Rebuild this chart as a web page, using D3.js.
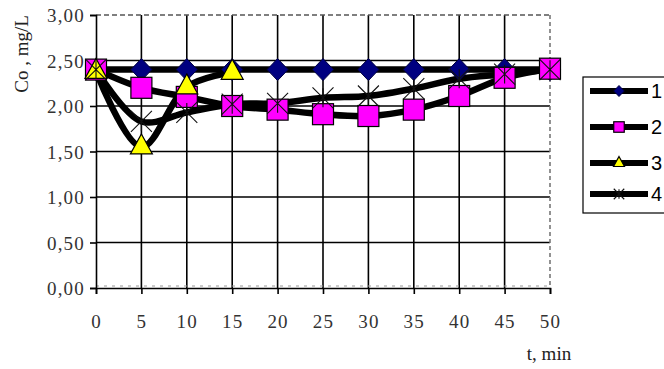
<!DOCTYPE html>
<html>
<head>
<meta charset="utf-8">
<script src="https://cdn.jsdelivr.net/npm/d3@7"></script>
<style>
  html, body { margin: 0; padding: 0; background: #fff; }
  svg { display: block; }
</style>
</head>
<body>
<svg id="chart" width="664" height="369"></svg>
<script>
// Time points (min)
const times = [0, 5, 10, 15, 20, 25, 30, 35, 40, 45, 50];
// Co concentration, mg/L, per series
const series1 = [2.40, 2.40, 2.40, 2.40, 2.40, 2.40, 2.40, 2.40, 2.40, 2.40, 2.40];
const series2 = [2.40, 2.20, 2.10, 2.00, 1.96, 1.91, 1.89, 1.96, 2.11, 2.31, 2.41];
const series3 = [2.38, 1.55, 2.21, 2.37];
const series4 = [2.40, 1.83, 1.93, 2.02, 2.03, 2.09, 2.11, 2.19, 2.30, 2.35, 2.40];
const seriesNames = ["1", "2", "3", "4"];
const yTicks = [0, 0.5, 1, 1.5, 2, 2.5, 3];
const xTicks = [0, 5, 10, 15, 20, 25, 30, 35, 40, 45, 50];

const svg = d3.select("#chart");
const plot = { left: 96, right: 550, top: 15, bottom: 288 };

const x = d3.scaleLinear().domain([0, 50]).range([plot.left, plot.right]);
const y = d3.scaleLinear().domain([0, 3]).range([plot.bottom, plot.top]);
const fmt = v => d3.format(".2f")(v).replace(".", ",");

// Grid
const grid = svg.append("g");
grid.selectAll("line.v").data(xTicks.filter(d => d > 0 && d < 50)).join("line")
  .attr("x1", d => x(d)).attr("x2", d => x(d))
  .attr("y1", plot.top).attr("y2", plot.bottom)
  .attr("stroke", "#000").attr("stroke-width", 1.6);
grid.selectAll("line.h").data(yTicks.filter(d => d > 0 && d < 3)).join("line")
  .attr("x1", plot.left).attr("x2", plot.right)
  .attr("y1", d => y(d)).attr("y2", d => y(d))
  .attr("stroke", "#000").attr("stroke-width", 1.6);

// Plot frame: dashed top and right edges
grid.append("line").attr("x1", plot.left).attr("x2", plot.right)
  .attr("y1", plot.top).attr("y2", plot.top)
  .attr("stroke", "#555").attr("stroke-width", 1.6).attr("stroke-dasharray", "5,3");
grid.append("line").attr("x1", plot.right).attr("x2", plot.right)
  .attr("y1", plot.top).attr("y2", plot.bottom)
  .attr("stroke", "#777").attr("stroke-width", 1.6).attr("stroke-dasharray", "4,3");
grid.append("line").attr("x1", plot.left).attr("x2", plot.right)
  .attr("y1", plot.bottom - 2).attr("y2", plot.bottom - 2)
  .attr("stroke", "#999").attr("stroke-width", 1.2).attr("stroke-dasharray", "3,5");

// Axes
const axisFont = "'Liberation Serif', 'Times New Roman', serif";
const yAxis = svg.append("g").attr("transform", `translate(${plot.left},0)`)
  .call(d3.axisLeft(y).tickValues(yTicks).tickFormat(fmt).tickSize(6).tickPadding(5));
const xAxis = svg.append("g").attr("transform", `translate(0,${plot.bottom})`)
  .call(d3.axisBottom(x).tickValues(xTicks).tickFormat(d3.format("d")).tickSize(6).tickPadding(21));
[yAxis, xAxis].forEach(a => {
  a.select(".domain").attr("stroke", "#000").attr("stroke-width", 1.6);
  a.selectAll(".tick line").attr("stroke", "#000").attr("stroke-width", 1.6);
  a.selectAll(".tick text").attr("font-family", axisFont).attr("font-size", 19)
    .attr("letter-spacing", 1.2).attr("fill", "#333");
});
yAxis.selectAll(".tick text").attr("dy", "0.35em");

// Axis titles
svg.append("text")
  .attr("transform", "translate(28,54) rotate(-90)")
  .attr("text-anchor", "middle")
  .attr("font-family", axisFont).attr("font-size", 19).attr("fill", "#222")
  .text("Co , mg/L");
svg.append("text")
  .attr("x", 549).attr("y", 360).attr("text-anchor", "middle")
  .attr("font-family", axisFont).attr("font-size", 19).attr("fill", "#222")
  .text("t, min");

// Lines
const allSeries = [series1, series2, series3, series4];
const line = d3.line()
  .x(d => x(d[0])).y(d => y(d[1]))
  .curve(d3.curveCatmullRom.alpha(0.5));
const pairs = s => s.map((v, i) => [times[i], v]);
svg.append("g").selectAll("path").data(allSeries).join("path")
  .attr("d", s => line(pairs(s)))
  .attr("fill", "none").attr("stroke", "#000").attr("stroke-width", 6.5)
  .attr("stroke-linejoin", "round");

// Marker shapes
function drawMarker(g, idx, cx, cy, scale) {
  const s = scale;
  if (idx === 0) {
    g.append("path")
      .attr("d", `M${cx},${cy - 11 * s}L${cx + 10.5 * s},${cy}L${cx},${cy + 11 * s}L${cx - 10.5 * s},${cy}Z`)
      .attr("fill", "#000080").attr("stroke", "#000040").attr("stroke-width", 1);
  } else if (idx === 1) {
    g.append("rect")
      .attr("x", cx - 10.5 * s).attr("y", cy - 10.5 * s)
      .attr("width", 21 * s).attr("height", 21 * s)
      .attr("fill", "#ff00ff").attr("stroke", "#000").attr("stroke-width", 1.2);
  } else if (idx === 2) {
    g.append("path")
      .attr("d", `M${cx},${cy - 13 * s}L${cx + 11 * s},${cy + 7 * s}L${cx - 11 * s},${cy + 7 * s}Z`)
      .attr("fill", "#ffff00").attr("stroke", "#000").attr("stroke-width", 1.2);
  } else {
    const r = 10.5 * s;
    g.append("path")
      .attr("d", `M${cx - r},${cy - r}L${cx + r},${cy + r}M${cx - r},${cy + r}L${cx + r},${cy - r}M${cx},${cy - r * 0.9}L${cx},${cy + r * 0.9}`)
      .attr("fill", "none").attr("stroke", "#111").attr("stroke-width", 1.1);
  }
}

const markers = svg.append("g");
allSeries.forEach((s, idx) => {
  s.forEach((v, i) => drawMarker(markers, idx, x(times[i]), y(v), 1));
});

// Legend
const legend = svg.append("g");
legend.append("rect").attr("x", 583).attr("y", 77).attr("width", 84).attr("height", 136)
  .attr("fill", "#fff").attr("stroke", "#000").attr("stroke-width", 1.2);
const legendY = [91, 127, 163, 194];
seriesNames.forEach((name, idx) => {
  const ly = legendY[idx];
  legend.append("line").attr("x1", 590).attr("x2", 648).attr("y1", ly).attr("y2", ly)
    .attr("stroke", "#000").attr("stroke-width", 6);
  drawMarker(legend, idx, 619, ly, 0.5);
  legend.append("text").attr("x", 651).attr("y", ly + 7)
    .attr("font-family", "'Liberation Sans', Arial, sans-serif").attr("font-size", 20)
    .attr("fill", "#000").text(name);
});
</script>
</body>
</html>
